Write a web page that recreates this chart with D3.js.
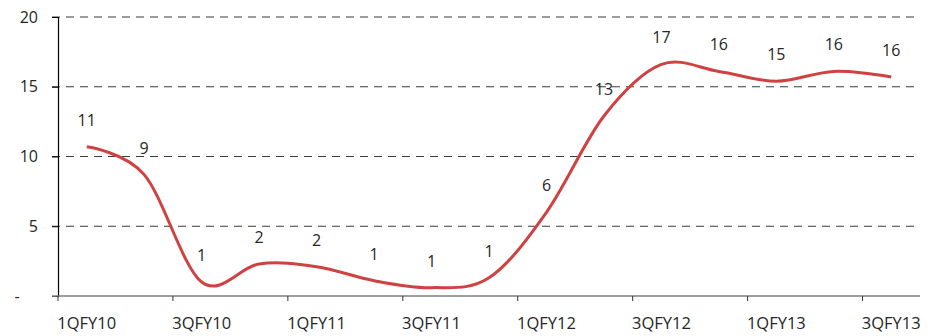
<!DOCTYPE html>
<html>
<head>
<meta charset="utf-8">
<script src="https://cdn.jsdelivr.net/npm/d3@7"></script>
<style>
    body { margin: 0; background: #fff; }
    text { font-family: "Open Sans", sans-serif; fill: #262626; }
</style>
</head>
<body>
<div id="main"></div>
<script>
var quarters = ["1QFY10", "2QFY10", "3QFY10", "4QFY10", "1QFY11", "2QFY11", "3QFY11", "4QFY11",
    "1QFY12", "2QFY12", "3QFY12", "4QFY12", "1QFY13", "2QFY13", "3QFY13"];
var growth = [10.7, 8.7, 1.0, 2.3, 2.1, 1.1, 0.6, 1.3, 6.0, 12.9, 16.6, 16.1, 15.4, 16.1, 15.7];
var yTicks = [0, 5, 10, 15, 20];
var yTickLabels = ["-\u2007\u2007", "5", "10", "15", "20"];
var xLabelQuarters = ["1QFY10", "3QFY10", "1QFY11", "3QFY11", "1QFY12", "3QFY12", "1QFY13", "3QFY13"];

var width = 930;
var height = 336;
var margin = { top: 17, right: 10, bottom: 40, left: 58 };

var svg = d3.select("#main")
    .append("svg")
    .attr("width", width)
    .attr("height", height);

var x = d3.scaleBand()
    .domain(quarters)
    .range([margin.left, width - margin.right]);

var y = d3.scaleLinear()
    .domain([0, 20])
    .range([height - margin.bottom, margin.top]);

// dashed gridlines
svg.append("g")
    .selectAll("line")
    .data(yTicks.filter(function (d) { return d > 0; }))
    .enter()
    .append("line")
    .attr("x1", margin.left - 6)
    .attr("x2", width - margin.right - 2)
    .attr("y1", function (d) { return y(d); })
    .attr("y2", function (d) { return y(d); })
    .attr("stroke", "#3a3a3a")
    .attr("stroke-width", 1)
    .attr("stroke-dasharray", "8,6");

// y axis
var yAxis = d3.axisLeft(y)
    .tickValues(yTicks)
    .tickSize(6)
    .tickPadding(14)
    .tickFormat(function (d, i) { return yTickLabels[i]; });
var yg = svg.append("g")
    .attr("transform", "translate(" + margin.left + ",0)")
    .call(yAxis);
yg.select(".domain").attr("stroke", "#000").attr("stroke-width", 1.2);
yg.selectAll(".tick line").attr("stroke", "#000");
yg.selectAll(".tick text")
    .attr("font-size", 16)
    .attr("font-family", "Open Sans")
    .attr("fill", "#262626");

// x axis line + ticks between categories
var baseY = y(0);
svg.append("line")
    .attr("x1", margin.left - 6)
    .attr("x2", width - margin.right)
    .attr("y1", baseY)
    .attr("y2", baseY)
    .attr("stroke", "#7f7f7f")
    .attr("stroke-width", 1.5);

svg.append("g")
    .selectAll("line")
    .data(xLabelQuarters)
    .enter()
    .append("line")
    .attr("x1", function (d) { return x(d); })
    .attr("x2", function (d) { return x(d); })
    .attr("y1", baseY)
    .attr("y2", baseY + 5)
    .attr("stroke", "#333");

svg.append("g")
    .selectAll("text")
    .data(xLabelQuarters)
    .enter()
    .append("text")
    .attr("x", function (d) { return x(d) + x.bandwidth() / 2; })
    .attr("y", baseY + 33)
    .attr("text-anchor", "middle")
    .attr("font-size", 16.5)
    .text(function (d) { return d; });

// smoothed line
var line = d3.line()
    .x(function (d, i) { return x(quarters[i]) + x.bandwidth() / 2; })
    .y(function (d) { return y(d); })
    .curve(d3.curveCardinal.tension(0));

svg.append("path")
    .datum(growth)
    .attr("d", line)
    .attr("fill", "none")
    .attr("stroke", "#cf4242")
    .attr("stroke-width", 3)
    .attr("stroke-linejoin", "round");

// data labels
svg.append("g")
    .selectAll("text")
    .data(growth)
    .enter()
    .append("text")
    .attr("x", function (d, i) { return x(quarters[i]) + x.bandwidth() / 2; })
    .attr("y", function (d) { return y(d) - 21; })
    .attr("text-anchor", "middle")
    .attr("font-size", 16)
    .text(function (d) { return d3.format(".0f")(d); });
</script>
</body>
</html>
